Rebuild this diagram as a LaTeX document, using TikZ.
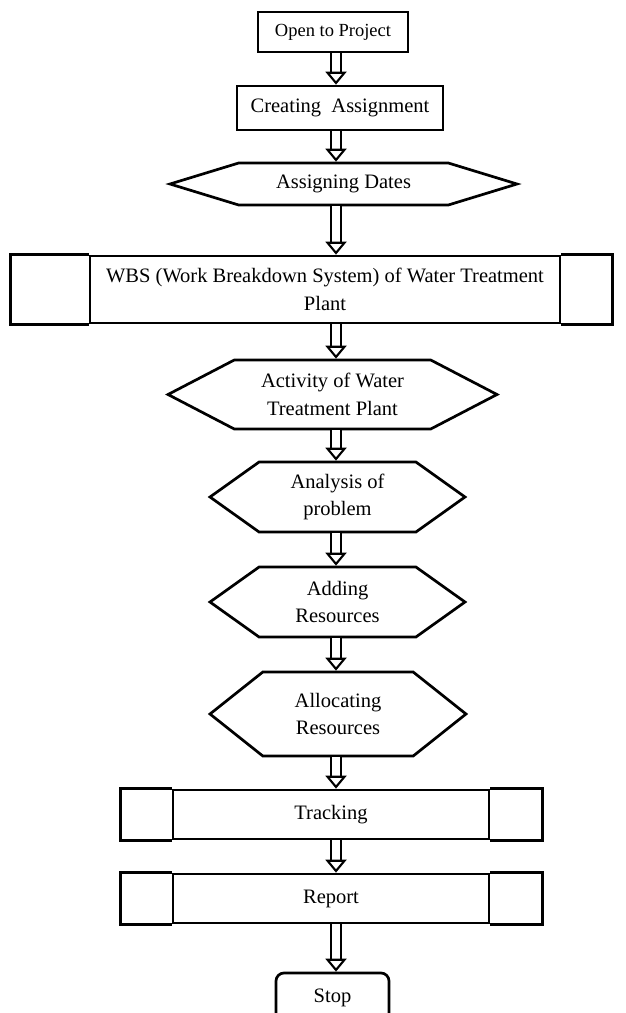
\documentclass[tikz,border=0pt]{standalone}
\usepackage{fontspec}
\setmainfont{Liberation Serif}
\usetikzlibrary{shapes.symbols,shapes.misc,arrows.meta}

\begin{document}
\begin{tikzpicture}[x=1pt,y=-1pt,
  font=\fontsize{20.5}{27.5}\selectfont,
  box/.style={draw, line width=2.7pt, inner sep=0pt, align=center},
  hexbox/.style={draw, line width=2.7pt, inner sep=0pt, align=center,
    signal, signal to=west and east, signal pointer angle=#1},
  dbl/.style={double, double distance=7.5pt, line width=2.1pt,
    -{Triangle[open, length=13pt, width=21pt]}}]

% page size in pixels of the scan
\useasboundingbox (0,0) rectangle (626,1013);

% x of the arrow column
\coordinate (spine) at (336,0);

%--- Start boxes ---
\node[box, minimum width=150, minimum height=40,
  font=\fontsize{18.5}{24}\selectfont] (open) at (333,32) {Open to Project};
\node[box, minimum width=206, minimum height=44] (create) at (340,108) {Creating\ \ Assignment};
\node[hexbox=34, minimum width=347, minimum height=42] (dates) at (343.5,184) {Assigning Dates};

%--- WBS (middle part is the node, side cells drawn after) ---
\node[box, minimum width=470, minimum height=67] (wbs) at (325,289.5)
  {WBS (Work Breakdown System) of Water Treatment\\Plant};
\draw[line width=2.7pt] (wbs.north west) -- ++(-78,0) |- (wbs.south west);
\draw[line width=2.7pt] (wbs.north east) -- ++(51,0) |- (wbs.south east);

%--- Hexagon steps ---
\node[hexbox=55, minimum width=329, minimum height=69] (act) at (332.5,394.5)
  {Activity of Water\\Treatment Plant};
\node[hexbox=71, minimum width=255, minimum height=70] (ana) at (337.5,497)
  {Analysis of\\problem};
\node[hexbox=71, minimum width=255, minimum height=70] (add) at (337.5,602)
  {Adding\\Resources};
\node[hexbox=77, minimum width=256, minimum height=84] (alloc) at (338,714)
  {Allocating\\Resources};

%--- Tracking and Report ---
\node[box, minimum width=316, minimum height=49] (track) at (331,814.5) {Tracking};
\draw[line width=2.7pt] (track.north west) -- ++(-51,0) |- (track.south west);
\draw[line width=2.7pt] (track.north east) -- ++(52,0) |- (track.south east);

\node[box, minimum width=316, minimum height=49] (report) at (331,898.5) {Report};
\draw[line width=2.7pt] (report.north west) -- ++(-51,0) |- (report.south west);
\draw[line width=2.7pt] (report.north east) -- ++(52,0) |- (report.south east);

%--- Stop (cut by the page edge) ---
\node[box, rounded corners=8pt, minimum width=113, minimum height=50] (stop) at (332.5,998) {Stop};

%--- Arrows ---
\draw[dbl] (open.south -| spine) -- (create.north -| spine);
\draw[dbl] (create.south -| spine) -- (dates.north -| spine);
\draw[dbl] (dates.south -| spine) -- (wbs.north -| spine);
\draw[dbl] (wbs.south -| spine) -- (act.north -| spine);
\draw[dbl] (act.south -| spine) -- (ana.north -| spine);
\draw[dbl] (ana.south -| spine) -- (add.north -| spine);
\draw[dbl] (add.south -| spine) -- (alloc.north -| spine);
\draw[dbl] (alloc.south -| spine) -- (track.north -| spine);
\draw[dbl] (track.south -| spine) -- (report.north -| spine);
\draw[dbl] (report.south -| spine) -- (stop.north -| spine);

\end{tikzpicture}
\end{document}
